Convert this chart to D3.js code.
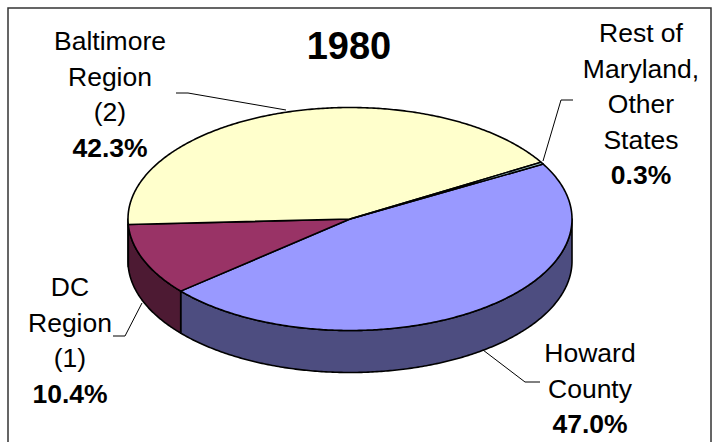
<!DOCTYPE html>
<html><head><meta charset="utf-8">
<script src="https://cdn.jsdelivr.net/npm/d3@7"></script>
<style>body{margin:0;background:#fff}svg{display:block}</style>
</head><body>
<script>
const categories = ["Howard County", "DC Region (1)", "Baltimore Region (2)", "Rest of Maryland, Other States"];
const values = [47.0, 10.4, 42.3, 0.3];
const valueLabels = ["47.0%", "10.4%", "42.3%", "0.3%"];
const labelLines = [["Howard", "County"], ["DC", "Region", "(1)"], ["Baltimore", "Region", "(2)"], ["Rest of", "Maryland,", "Other", "States"]];
const topColors = ["#9999FF", "#993366", "#FFFFCC", "#CCFFFF"];
const sideColors = ["#4D4D80", "#4D1A33", "#80806A", "#668080"];
const title = "1980";

const W = 718, H = 442;
const svg = d3.select("body").append("svg").attr("width", W).attr("height", H);
svg.append("rect").attr("x", 8).attr("y", 8).attr("width", 703).attr("height", 450)
  .attr("fill", "#fff").attr("stroke", "#333").attr("stroke-width", 1.5);

const cx = 350, cy = 219, rx = 222, ry = 111.5, depth = 42;
const start = 60.5 * Math.PI / 180;
const pie = d3.pie().sort(null).startAngle(start).endAngle(start + 2 * Math.PI);
const arcs = pie(values);
const P = (a, z) => [cx + rx * Math.sin(a), cy - ry * Math.cos(a) + z];
const line = d3.line();
const samples = (a0, a1, z) => {
  const n = Math.max(2, Math.ceil(Math.abs(a1 - a0) / 0.01));
  return d3.range(n + 1).map(i => P(a0 + (a1 - a0) * i / n, z));
};

// sides
arcs.forEach((d, i) => {
  const a0 = Math.max(d.startAngle, Math.PI / 2), a1 = Math.min(d.endAngle, 3 * Math.PI / 2);
  if (a1 <= a0) return;
  const pts = samples(a0, a1, 0).concat(samples(a1, a0, depth));
  svg.append("path").attr("d", line(pts) + "Z").attr("fill", sideColors[i])
    .attr("stroke", "#000").attr("stroke-width", 1.6).attr("stroke-linejoin", "round");
});
// tops
arcs.forEach((d, i) => {
  const pts = [[cx, cy]].concat(samples(d.startAngle, d.endAngle, 0));
  svg.append("path").attr("d", line(pts) + "Z").attr("fill", topColors[i])
    .attr("stroke", "#000").attr("stroke-width", 1.6).attr("stroke-linejoin", "round");
});

// leader lines
const leaders = [
  [[540, 382], [525, 382], [483, 350]],
  [[113, 336], [125, 336], [142, 303]],
  [[176, 93], [188, 93], [286, 110]],
  [[573, 100], [561, 100], [543, 161]]
];
leaders.forEach(l => svg.append("path").attr("d", line(l)).attr("fill", "none")
  .attr("stroke", "#000").attr("stroke-width", 1));

// labels
const labelPos = [[590, 362], [70, 296], [110, 50], [641, 42]];
const lh = 35.5;
const font = "'Liberation Sans', Arial, sans-serif";
labelLines.forEach((lines, i) => {
  const t = svg.append("text").attr("text-anchor", "middle").attr("font-family", font)
    .attr("font-size", 26.5).attr("fill", "#000");
  lines.concat([valueLabels[i]]).forEach((s, j) => {
    t.append("tspan").attr("x", labelPos[i][0]).attr("y", labelPos[i][1] + j * lh)
      .attr("font-weight", j === lines.length ? "bold" : "normal").text(s);
  });
});

svg.append("text").attr("x", 349).attr("y", 59).attr("text-anchor", "middle")
  .attr("font-family", font).attr("font-size", 38).attr("font-weight", "bold").text(title);
</script>
</body></html>
